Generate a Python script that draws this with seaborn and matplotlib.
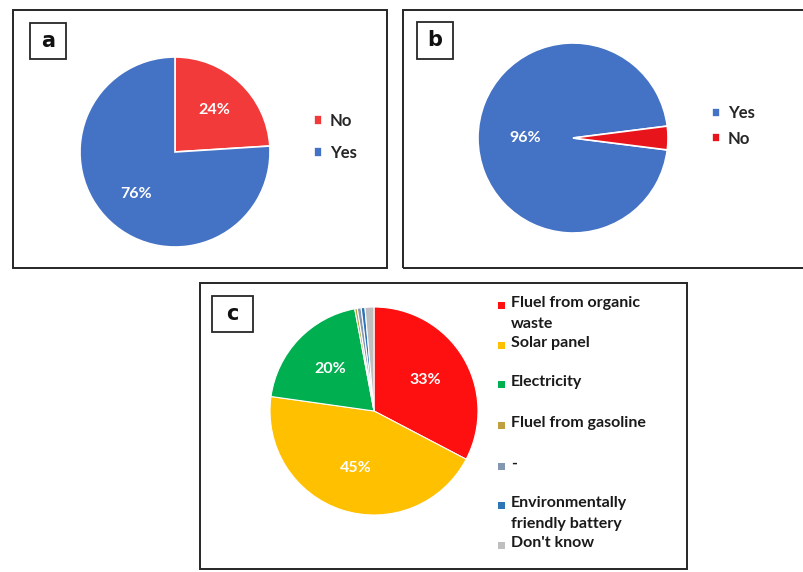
import matplotlib
matplotlib.use("Agg")
import matplotlib.pyplot as plt
from matplotlib.patches import Rectangle
import seaborn as sns

# ---------------- data ----------------
a_labels = ["No", "Yes"]
a_values = [24, 76]

b_labels = ["Yes", "No"]
b_values = [96, 4]

c_labels = ["Fluel from organic\nwaste", "Solar panel", "Electricity",
            "Fluel from gasoline", "-", "Environmentally\nfriendly battery",
            "Don't know"]
c_values = [33, 45, 20, 0.4, 0.6, 0.6, 1.4]

# ---------------- style ----------------
sns.set_theme(style="white")
plt.rcParams['font.family'] = ['Lato', 'DejaVu Sans']

a_colors = ["#F23A3A", "#4472C4"]
b_colors = ["#4472C4", "#E8141B"]
c_colors = ["#FF1010", "#FFC000", "#00B050", "#BF9F40", "#8497B0", "#2E75B6", "#BFBFBF"]

W, H = 804, 572
fig = plt.figure(figsize=(W / 100, H / 100), dpi=100)
fig.patch.set_facecolor("white")


def fx(x):
    return x / W


def fy(y):
    return 1 - y / H


def box(x0, y0, x1, y1, lw=1.4):
    fig.patches.append(Rectangle((fx(x0), fy(y1)), (x1 - x0) / W, (y1 - y0) / H,
                                 transform=fig.transFigure, fill=False,
                                 ec="#262626", lw=lw, zorder=0))


def pie_axes(cx, cy, r):
    ax = fig.add_axes([fx(cx - r), fy(cy + r), 2 * r / W, 2 * r / H])
    ax.axis("off")
    return ax


def fit(ax):
    ax.set_xlim(-1, 1)
    ax.set_ylim(-1, 1)
    ax.set_aspect("equal")


def pct(p):
    return f"{p:.0f}%" if p >= 5 else ""


# panel frames
box(13, 10, 387, 268)
box(403, 10, 812, 268)
box(200, 283, 687, 569)

# panel letters
for (x0, y0, x1, y1, t) in [(30, 23, 66, 59, "a"), (417, 22, 453, 59, "b"), (212, 296, 253, 332, "c")]:
    box(x0, y0, x1, y1, lw=1.3)
    fig.text(fx((x0 + x1) / 2), fy((y0 + y1) / 2), t, ha="center", va="center",
             fontsize=15, fontweight="bold", family="DejaVu Sans", color="#111111")

txt_kw = dict(color="white", fontsize=11.5, fontweight="bold")
wp = dict(edgecolor="white", linewidth=1.2)
leg_font = dict(size=12, weight="bold")

# ---- panel a ----
ax_a = pie_axes(175, 152, 95)
wa, _, _ = ax_a.pie(a_values, colors=a_colors, startangle=90, counterclock=False,
                    autopct=pct, pctdistance=0.6, radius=1, wedgeprops=wp, textprops=txt_kw)
fit(ax_a)
ax_a.legend(wa, a_labels, loc="center left", bbox_to_anchor=(fx(314), fy(137)),
            bbox_transform=fig.transFigure, frameon=False, prop=leg_font,
            handlelength=0.5, handleheight=0.5, handletextpad=0.45,
            labelspacing=0.95, borderpad=0, borderaxespad=0)

# ---- panel b ----
ax_b = pie_axes(573, 138, 95)
wb, _, _ = ax_b.pie(b_values, colors=b_colors, startangle=-7.2, counterclock=False,
                    autopct=pct, pctdistance=0.5, radius=1, wedgeprops=wp, textprops=txt_kw)
fit(ax_b)
ax_b.legend(wb, b_labels, loc="center left", bbox_to_anchor=(fx(712), fy(126)),
            bbox_transform=fig.transFigure, frameon=False, prop=leg_font,
            handlelength=0.5, handleheight=0.5, handletextpad=0.45,
            labelspacing=0.55, borderpad=0, borderaxespad=0)

# ---- panel c ----
ax_c = pie_axes(374, 411, 104)
wc, _, _ = ax_c.pie(c_values, colors=c_colors, startangle=90, counterclock=False,
                    autopct=pct, pctdistance=0.58, radius=1,
                    wedgeprops=dict(edgecolor="white", linewidth=0.8), textprops=txt_kw)
fit(ax_c)

# legend for c, laid out like the original (wrapped entries overlap next rows)
row_y = [305, 345, 384, 425, 466, 505, 545]
for lab, col, y in zip(c_labels, c_colors, row_y):
    fig.patches.append(Rectangle((fx(498), fy(y + 3.5)), 7 / W, 7 / H,
                                 transform=fig.transFigure, fc=col, ec="none"))
    fig.text(fx(511), fy(y - 9), lab, ha="left", va="top", fontsize=11.5,
             fontweight="bold", color="#1a1a1a", linespacing=1.6)

fig.savefig("out.png", dpi=100)
